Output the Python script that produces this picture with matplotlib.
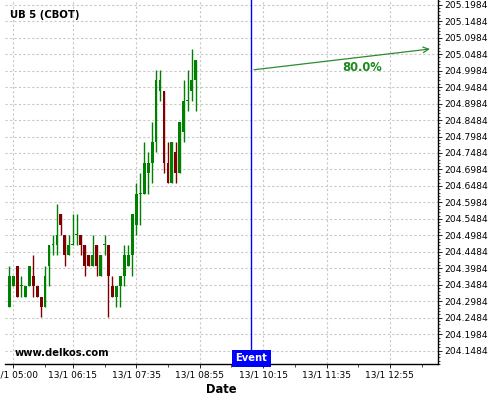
import matplotlib
matplotlib.use("Agg")
import matplotlib.pyplot as plt
import matplotlib.dates as mdates
import numpy as np
import pandas as pd

# 5-minute candles of UB (CBOT), 13/1
bar_start = "2025-01-13 04:55"
n_bars = 48
opens = [204.2812, 204.3438, 204.4062, 204.3438, 204.3125, 204.3438, 204.375, 204.3438, 204.3125, 204.2812,
         204.4062, 204.4688, 204.4688, 204.5625, 204.5, 204.4375, 204.4688, 204.5, 204.5, 204.4688,
         204.4375, 204.4062, 204.4688, 204.375, 204.4688, 204.4688, 204.3438, 204.3125, 204.3438, 204.375,
         204.4062, 204.4375, 204.5312, 204.625, 204.625, 204.6875, 204.7188, 204.7812, 204.9375, 204.9375,
         204.7188, 204.6562, 204.75, 204.6875, 204.8125, 204.9062, 204.9375, 204.9688]
highs = [204.4062, 204.375, 204.4062, 204.375, 204.3438, 204.4062, 204.4375, 204.3438, 204.3125, 204.4062,
         204.4688, 204.5, 204.5938, 204.5625, 204.5, 204.5, 204.5625, 204.5625, 204.5, 204.4688,
         204.4375, 204.5, 204.4688, 204.4375, 204.5, 204.4688, 204.375, 204.3438, 204.375, 204.4688,
         204.4688, 204.5625, 204.6562, 204.6875, 204.7812, 204.75, 204.8438, 205.0, 205.0, 204.9375,
         204.7812, 204.7812, 204.7812, 204.8438, 204.9688, 205.0, 205.0625, 205.0312]
lows = [204.2812, 204.3438, 204.3125, 204.3125, 204.3125, 204.3438, 204.3125, 204.3125, 204.25, 204.2812,
        204.3438, 204.4375, 204.4375, 204.5, 204.4062, 204.4375, 204.4688, 204.4688, 204.4375, 204.375,
        204.4062, 204.4062, 204.375, 204.375, 204.4375, 204.25, 204.3125, 204.2812, 204.2812, 204.3438,
        204.4062, 204.375, 204.5, 204.5312, 204.625, 204.625, 204.6562, 204.75, 204.9062, 204.6875,
        204.6562, 204.6562, 204.6562, 204.6875, 204.7812, 204.875, 204.9062, 204.875]
closes = [204.375, 204.375, 204.3125, 204.3438, 204.3438, 204.4062, 204.3438, 204.3125, 204.2812, 204.375,
          204.4688, 204.4688, 204.5, 204.5312, 204.4375, 204.4688, 204.4688, 204.5, 204.4688, 204.4062,
          204.4062, 204.4375, 204.4062, 204.4375, 204.4688, 204.375, 204.3125, 204.3438, 204.375, 204.4375,
          204.4375, 204.5625, 204.625, 204.625, 204.7188, 204.7188, 204.7812, 204.9688, 204.9688, 204.7188,
          204.6562, 204.7812, 204.6875, 204.8438, 204.9062, 204.9062, 204.9688, 205.0312]

event_time = "2025-01-13 10:00"
arrow_start = ("2025-01-13 10:00", 205.0)
arrow_end = ("2025-01-13 13:49", 205.065)
prob_label = "80.0%"
prob_pos = ("2025-01-13 12:20", 205.009)

x_ticks = ["05:00", "06:15", "07:35", "08:55", "10:15", "11:35", "12:55"]
x_minor = ["05:40", "06:55", "08:15", "09:35", "10:55", "12:15", "13:35"]
y_ticks = [204.1484, 204.1984, 204.2484, 204.2984, 204.3484, 204.3984, 204.4484, 204.4984,
           204.5484, 204.5984, 204.6484, 204.6984, 204.7484, 204.7984, 204.8484, 204.8984,
           204.9484, 204.9984, 205.0484, 205.0984, 205.1484, 205.1984]

GREEN = "#008000"
RED = "#800000"
ARROW = "#2e8b2e"

def t(s):
    return mdates.date2num(pd.Timestamp(s))

def day(hm):
    return t("2025-01-13 " + hm)

times = mdates.date2num(pd.date_range(bar_start, periods=n_bars, freq="5min"))
o, h, l, c = map(np.array, (opens, highs, lows, closes))
colors = np.where(c >= o, GREEN, RED)

fig = plt.figure(figsize=(5, 4), dpi=100)
ax = fig.add_axes([0.01, 0.09, 0.8666, 0.91])

bar_w = 3.6 / 1440
ax.vlines(times, l, h, colors=colors, lw=1, zorder=3)
ax.bar(times, np.maximum(np.abs(c - o), 0.003), bottom=np.minimum(o, c), width=bar_w,
       color=colors, zorder=4)

ax.axvline(t(event_time), color="#0000ff", lw=1, zorder=5)
ax.annotate("", xy=(t(arrow_end[0]), arrow_end[1]), xytext=(t(arrow_start[0]), arrow_start[1]),
            arrowprops=dict(arrowstyle="->", color=ARROW, lw=0.9, mutation_scale=10), zorder=6)
ax.text(t(prob_pos[0]), prob_pos[1], prob_label, color="#1a8a1a", fontsize=8.3,
        fontweight="bold", ha="center", va="center")
ax.text(t(event_time), 0.002, "Event", transform=ax.get_xaxis_transform(), color="white",
        fontsize=7.2, fontweight="bold", ha="center", va="bottom", zorder=7,
        bbox=dict(boxstyle="square,pad=0.35", fc="#0000ff", ec="none"))

ax.text(0.0115, 0.959, "UB 5 (CBOT)", transform=ax.transAxes, fontsize=7.3,
        fontweight="bold", ha="left", va="center")
ax.text(0.023, 0.03, "www.delkos.com", transform=ax.transAxes, fontsize=7.2,
        fontweight="bold", ha="left", va="center")

ax.set_xlim(t("2025-01-13 04:49:30"), t("2025-01-13 13:56"))
ax.set_ylim(204.108, 205.2127)
ax.set_xticks([day(s) for s in x_ticks])
ax.set_xticklabels(["13/1 " + s for s in x_ticks], fontsize=6.5)
ax.set_xticks([day(s) for s in x_minor], minor=True)
ax.set_yticks(y_ticks)
ax.set_yticklabels([f"{v:.4f}" for v in y_ticks], fontsize=6.6)
ax.set_yticks(np.arange(204.1084, 205.2127, 0.01), minor=True)
ax.yaxis.tick_right()
ax.tick_params(axis="y", which="major", length=3, width=0.6, pad=1)
ax.tick_params(axis="y", which="minor", length=1.5, width=0.5)
ax.tick_params(axis="x", which="major", length=3, width=0.6, pad=2)
ax.tick_params(axis="x", which="minor", length=2, width=0.5)

ax.grid(True, which="major", color="#c8c8c8", linestyle=(0, (2, 2)), lw=0.8)
ax.set_axisbelow(True)
for side in ("top", "left"):
    ax.spines[side].set_visible(False)
for side in ("bottom", "right"):
    ax.spines[side].set_linewidth(1.0)

ax.set_xlabel("Date", fontsize=8.3, fontweight="bold", labelpad=2)

fig.savefig("out.png", dpi=100)
